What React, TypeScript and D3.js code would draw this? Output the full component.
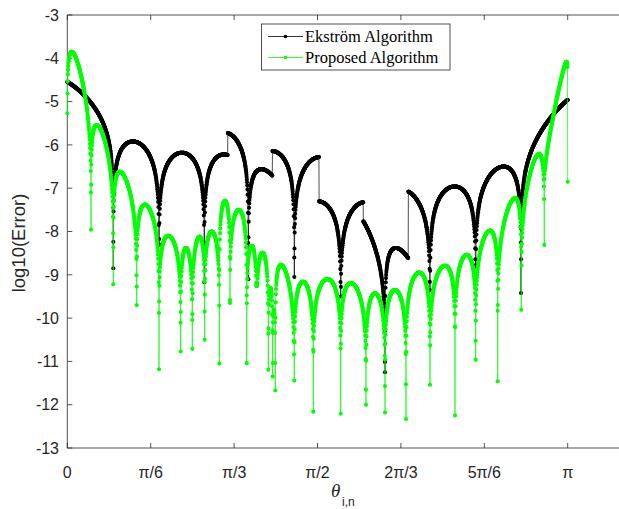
import React from 'react';
import * as d3 from 'd3';

// ---------------- data (x in units of π, y = log10(Error)) ----------------
// Ekström algorithm: positions of the zeros (dips), depth of the deepest sample at each dip,
// and the top of every arch between two dips.
const ekDipX = [-0.1, 0.0919, 0.1833, 0.2738, 0.3617, 0.4537, 0.5464, 0.6349, 0.7248, 0.8161, 0.9067, 1.1];
const ekDipY = [-13, -8.85, -8.3, -9.17, -9.1, -9.05, -9.5, -11.25, -9.35, -8.8, -9.42, -13];
const ekPeakX = [-0.0496, 0.131, 0.229, 0.313, 0.388, 0.505, 0.595, 0.6565, 0.774, 0.872, 1.061];
const ekPeakY = [-4.35, -5.92, -6.18, -6.22, -6.56, -6.28, -7.32, -8.38, -6.96, -6.5, -4.6];
const ekLobeK = [1, 1, 1, 1, 1, 1, 1, 1, 1, 1, 1];
// discontinuities of the Ekström curve: where it jumps and the arch it continues on
const ekJumpX = [0.3205, 0.4097, 0.503, 0.5915, 0.6815];
const ekJumpPeakX = [0.3135, 0.408, 0.5, 0.566, 0.67];
const ekJumpPeakY = [-5.71, -6.14, -7.3, -7.485, -7.04];

// Proposed algorithm
const prDipX = [0, 0.0474, 0.0919, 0.1387, 0.1833, 0.2266, 0.2498, 0.2745, 0.3038, 0.3251, 0.3585, 0.3785, 0.4017, 0.4103, 0.4157, 0.4536, 0.4916, 0.5464, 0.5969, 0.6349, 0.6769, 0.7248, 0.7748, 0.8161, 0.8601, 0.9072, 0.9532, 1.0];
const prDipY = [-5.27, -7.96, -9.22, -9.7, -11.18, -10.77, -10.71, -10.5, -11.05, -9.65, -11.04, -9.25, -11.19, -11.35, -11.67, -11.44, -12.16, -12.21, -12.0, -12.18, -12.33, -11.54, -12.25, -10.96, -11.46, -9.81, -8.31, -6.85];
const prPeakX = [0.009, 0.0588, 0.105, 0.155, 0.2018, 0.2372, 0.2642, 0.2886, 0.3151, 0.3427, 0.3685, 0.3901, 0.4059, 0.413, 0.4271, 0.471, 0.52, 0.5664, 0.6149, 0.6549, 0.7034, 0.7548, 0.7982, 0.8448, 0.8947, 0.9427, 0.9977];
const prPeakY = [-3.85, -5.54, -6.62, -7.38, -8.1, -8.38, -8.12, -8.0, -7.29, -7.5, -8.33, -8.49, -9.3, -9.8, -8.77, -9.16, -9.1, -9.19, -9.43, -9.35, -8.95, -8.79, -8.54, -7.98, -7.23, -6.21, -4.08];
const prLobeK = [1, 1, 1, 1, 1, 1, 1, 1, 1, 1, 1, 1, 1, 1, 1, 1, 1, 1, 1, 1, 1, 1, 1, 1, 1, 1, 0.3];
const prJumpX: number[] = [];
const prJumpPeakX: number[] = [];
const prJumpPeakY: number[] = [];

const xTickLabels = ['0', 'π/6', 'π/3', 'π/2', '2π/3', '5π/6', 'π'];
const yTickValues = [-13, -12, -11, -10, -9, -8, -7, -6, -5, -4, -3];
const legendLabels = ['Ekström Algorithm', 'Proposed Algorithm'];

const N_SAMPLES = 2500;

// ---------------- helpers ----------------
// shape of one arch of log10|error| between two zeros, passing through its top
function lobeValue(x: number, a: number, b: number, xp: number, yp: number, k: number) {
  const w = b - a;
  const u = (x - a) / w;
  const up = (xp - a) / w;
  const C = Math.PI / Math.LN10;
  const m = (-C * k) / Math.tan(Math.PI * up);
  return yp + m * (u - up) + k * (Math.log10(Math.sin(Math.PI * u)) - Math.log10(Math.sin(Math.PI * up)));
}

function buildSeries(
  dipX: number[], dipY: number[], peakX: number[], peakY: number[], lobeK: number[],
  jumpX: number[], jumpPeakX: number[], jumpPeakY: number[], n: number
): [number, number][] {
  let xs = d3.range(n + 1).map((i) => i / n);
  dipX.forEach((d) => { if (d >= 0 && d <= 1) xs.push(d); });
  xs.sort((p, q) => p - q);
  xs = xs.filter((v, i) => i === 0 || v - xs[i - 1] > 1e-7);
  return xs.map((x) => {
    let i = d3.bisectRight(dipX, x) - 1;
    i = Math.max(0, Math.min(dipX.length - 2, i));
    const a = dipX[i];
    const b = dipX[i + 1];
    if (Math.abs(x - a) < 1e-6) return [x, dipY[i]] as [number, number];
    if (Math.abs(x - b) < 1e-6) return [x, dipY[i + 1]] as [number, number];
    let xp = peakX[i];
    let yp = peakY[i];
    jumpX.forEach((jx, j) => {
      if (jx > a && jx < b && x >= jx) { xp = jumpPeakX[j]; yp = jumpPeakY[j]; }
    });
    const y = lobeValue(x, a, b, xp, yp, lobeK[i]);
    const floor = x - a < b - x ? dipY[i] : dipY[i + 1];
    return [x, Math.max(y, floor)] as [number, number];
  });
}

const ekData = buildSeries(ekDipX, ekDipY, ekPeakX, ekPeakY, ekLobeK, ekJumpX, ekJumpPeakX, ekJumpPeakY, N_SAMPLES);
const prData = buildSeries(prDipX, prDipY, prPeakX, prPeakY, prLobeK, prJumpX, prJumpPeakX, prJumpPeakY, N_SAMPLES);

// ---------------- layout ----------------
const W = 619;
const H = 509;
const L = 67.3;
const T = 15;
const B = 448;
const xScale = d3.scaleLinear().domain([0, 3.5]).range([L, L + (500.4 * 3.5) / Math.PI]);
const yScale = d3.scaleLinear().domain([-13, -3]).range([B, T]);
const px = (d: [number, number]) => xScale(d[0] * Math.PI);
const py = (d: [number, number]) => yScale(d[1]);
const lineGen = d3.line<[number, number]>().x(px).y(py);

const AXIS = '#262626';
const GREEN = '#00ff00';

function Series({ data, color }: { data: [number, number][]; color: string }) {
  return (
    <g>
      <path d={lineGen(data) || ''} fill="none" stroke={color} strokeWidth={0.7} />
      {data.map((d, i) => (
        <circle key={i} cx={px(d)} cy={py(d)} r={2.05} fill={color} />
      ))}
    </g>
  );
}

export default function App() {
  const xTicks = xTickLabels.map((_, i) => (i * Math.PI) / 6);
  const right = W + 2;
  return (
    <svg width={W} height={H} style={{ position: 'absolute', left: 0, top: 0, background: '#fff' }}>
      <rect x={0} y={0} width={W} height={H} fill="#fff" />
      {/* axes frame */}
      <path d={`M${right},${T}H${L}V${B}H${right}`} fill="none" stroke={AXIS} strokeWidth={0.8} />
      {xTicks.map((v, i) => (
        <g key={'xt' + i}>
          <line x1={xScale(v)} x2={xScale(v)} y1={B} y2={B - 5} stroke={AXIS} strokeWidth={0.8} />
          <line x1={xScale(v)} x2={xScale(v)} y1={T} y2={T + 5} stroke={AXIS} strokeWidth={0.8} />
          <text x={xScale(v)} y={478} textAnchor="middle" fontFamily="Liberation Sans, Arial, sans-serif" fontSize={16} fill={AXIS}>
            {xTickLabels[i]}
          </text>
        </g>
      ))}
      {yTickValues.map((v) => (
        <g key={'yt' + v}>
          <line x1={L} x2={L + 5} y1={yScale(v)} y2={yScale(v)} stroke={AXIS} strokeWidth={0.8} />
          <text x={59} y={yScale(v) + 5.7} textAnchor="end" fontFamily="Liberation Sans, Arial, sans-serif" fontSize={16} fill={AXIS}>
            {String(v)}
          </text>
        </g>
      ))}
      {/* axis labels */}
      <text transform={`translate(25,${243}) rotate(-90)`} textAnchor="middle" fontFamily="Liberation Sans, Arial, sans-serif" fontSize={18.5} fill={AXIS}>
        log10(Error)
      </text>
      <text x={331} y={497} fontFamily="Liberation Serif, serif" fontStyle="italic" fontSize={19} fill={AXIS}>θ</text>
      <text x={342} y={505.5} fontFamily="Liberation Sans, Arial, sans-serif" fontSize={12} fill={AXIS}>i,n</text>

      {/* data */}
      <Series data={ekData} color="#000" />
      <Series data={prData} color={GREEN} />

      {/* legend */}
      <rect x={261.5} y={24} width={188.5} height={46} fill="#fff" stroke={AXIS} strokeWidth={0.8} />
      {legendLabels.map((lab, i) => {
        const yy = 36.5 + i * 21;
        const c = i === 0 ? '#000' : GREEN;
        return (
          <g key={lab}>
            <line x1={268} x2={303} y1={yy} y2={yy} stroke={c} strokeWidth={0.8} />
            <circle cx={285.5} cy={yy} r={1.8} fill={c} />
            <text x={305} y={yy + 5.5} fontFamily="Liberation Serif, Times New Roman, serif" fontSize={16.5} fill="#000">
              {lab}
            </text>
          </g>
        );
      })}
    </svg>
  );
}
